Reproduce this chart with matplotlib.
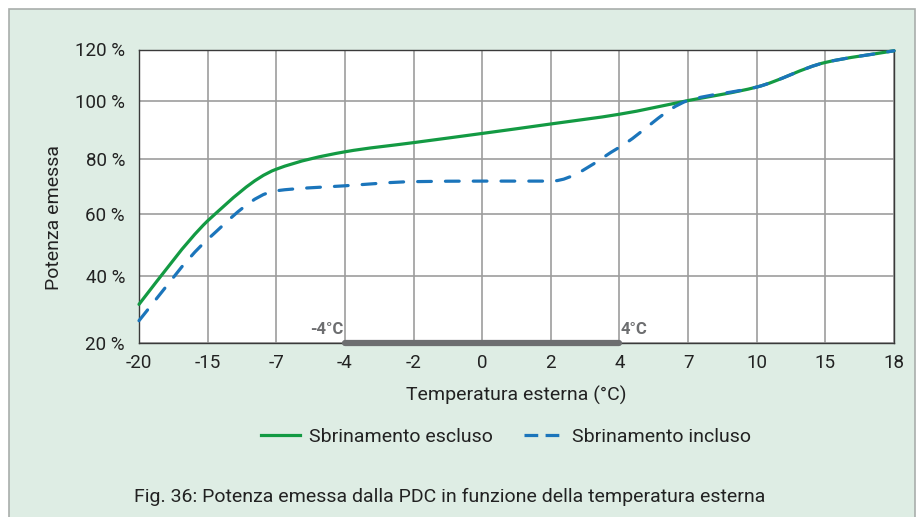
import numpy as np
import matplotlib
matplotlib.use("Agg")
import matplotlib.pyplot as plt
from matplotlib.patches import Rectangle, PathPatch
from matplotlib.lines import Line2D
from matplotlib.path import Path

plt.rcParams['font.family'] = ['Liberation Sans Narrow', 'Roboto', 'DejaVu Sans']

# Outdoor temperature categories (°C) and emitted power (%)
temps = ["-20", "-15", "-7", "-4", "-2", "0", "2", "4", "7", "10", "15", "18"]
power_no_defrost = [31.5, 57.8, 76.2, 82.4, 85.6, 88.8, 92.1, 95.5, 100.3, 105.5, 115.0, 119.5]
power_defrost = [26.6, 51.8, 68.4, 70.2, 71.7, 71.9, 71.9, 84.0, 100.3, 105.5, 115.0, 119.5]

y_ticks = [20, 40, 60, 80, 100, 120]
y_tick_labels = ["20 %", "40 %", "60 %", "80 %", "100 %", "120 %"]
# uneven spacing of the percentage grid (relative vertical distances)
y_spacing = [0, 66.7, 128.7, 184.0, 241.4, 293.2]

defrost_band = ("-4", "4")

green = "#139a43"
blue = "#1b75bb"
band_grey = "#6d6e70"
panel_bg = "#deede4"

W, H = 922, 517
fig = plt.figure(figsize=(W / 100, H / 100), dpi=100)
fig.patch.set_facecolor("white")

# light green panel behind everything
fig.add_artist(Rectangle((9 / W, -0.05), (915 - 9) / W, 1.05 - 9 / H,
                         transform=fig.transFigure, facecolor=panel_bg,
                         edgecolor="#a9aeab", linewidth=1.2, zorder=-10))

ax = fig.add_axes([139 / W, 1 - 342.7 / H, (894 - 139) / W, 293.2 / H])
ax.set_facecolor("white")


def fwd(v):
    return np.interp(v, y_ticks, y_spacing)


def inv(p):
    return np.interp(p, y_spacing, y_ticks)


ax.set_yscale("function", functions=(fwd, inv))


def smooth_path(xs, ys):
    """Monotone cubic (Fritsch-Carlson) curve through the points as Bezier segments."""
    xs = np.asarray(xs, float)
    ys = np.asarray(ys, float)
    h = np.diff(xs)
    d = np.diff(ys) / h
    m = np.empty_like(ys)
    m[0], m[-1] = d[0], d[-1]
    for k in range(1, len(ys) - 1):
        if d[k - 1] * d[k] <= 0:
            m[k] = 0.0
        else:
            w1 = 2 * h[k] + h[k - 1]
            w2 = h[k] + 2 * h[k - 1]
            m[k] = (w1 + w2) / (w1 / d[k - 1] + w2 / d[k])
    verts = [(xs[0], ys[0])]
    codes = [Path.MOVETO]
    for k in range(len(xs) - 1):
        verts += [(xs[k] + h[k] / 3, ys[k] + m[k] * h[k] / 3),
                  (xs[k + 1] - h[k] / 3, ys[k + 1] - m[k + 1] * h[k] / 3),
                  (xs[k + 1], ys[k + 1])]
        codes += [Path.CURVE4] * 3
    return Path(verts, codes)


x = np.arange(len(temps))
ax.add_patch(PathPatch(smooth_path(x, power_no_defrost), fill=False,
                       edgecolor=green, lw=2.3, capstyle="round",
                       joinstyle="round", zorder=3, clip_on=False))
ax.add_patch(PathPatch(smooth_path(x, power_defrost), fill=False,
                       edgecolor=blue, lw=2.3, linestyle=(0, (4.3, 4.4)),
                       capstyle="round", joinstyle="round", zorder=4,
                       clip_on=False))

ax.set_xlim(0, len(temps) - 1)
ax.set_ylim(20, 120)
ax.set_xticks(x)
ax.set_xticklabels(temps)
ax.set_yticks(y_ticks)
ax.set_yticklabels(y_tick_labels)
ax.tick_params(length=0, labelsize=13.5, colors="#222222")
ax.tick_params(axis="x", pad=8)
ax.tick_params(axis="y", pad=10)
ax.grid(True, color="#9d9d9d", lw=1.2)
ax.set_axisbelow(True)
for side in ["top", "left", "right", "bottom"]:
    ax.spines[side].set_color("#3a3a3a")
    ax.spines[side].set_linewidth(1.0)

# defrost temperature band along the x axis
i0, i1 = temps.index(defrost_band[0]), temps.index(defrost_band[1])
ax.plot([i0, i1], [20, 20], color=band_grey, lw=4.5, solid_capstyle="round",
        zorder=5, clip_on=False)
ax.annotate("-4°C", xy=(i0, 20), xytext=(-1, 4), textcoords="offset points",
            ha="right", va="bottom", fontsize=12, fontweight="bold", color=band_grey)
ax.annotate("4°C", xy=(i1, 20), xytext=(1, 4), textcoords="offset points",
            ha="left", va="bottom", fontsize=12, fontweight="bold", color=band_grey)

ax.set_xlabel("Temperatura esterna (°C)", fontsize=14, color="#222222", labelpad=10)
fig.text(54 / W, 1 - 218 / H, "Potenza emessa", rotation=90, ha="center",
         va="center", fontsize=14, color="#222222")

handles = [Line2D([], [], color=green, lw=2.3),
           Line2D([], [], color=blue, lw=2.3, dashes=(4.3, 2.3))]
fig.legend(handles, ["Sbrinamento escluso", "Sbrinamento incluso"],
           loc="center", bbox_to_anchor=(506 / W, 1 - 437 / H), ncol=2,
           frameon=False, fontsize=14, handlelength=2.0, handletextpad=0.45,
           columnspacing=1.6, labelcolor="#222222")

fig.text(450 / W, 1 - 497 / H,
         "Fig. 36: Potenza emessa dalla PDC in funzione della temperatura esterna",
         ha="center", va="center", fontsize=14, color="#222222")

fig.savefig("out.png", dpi=100)
